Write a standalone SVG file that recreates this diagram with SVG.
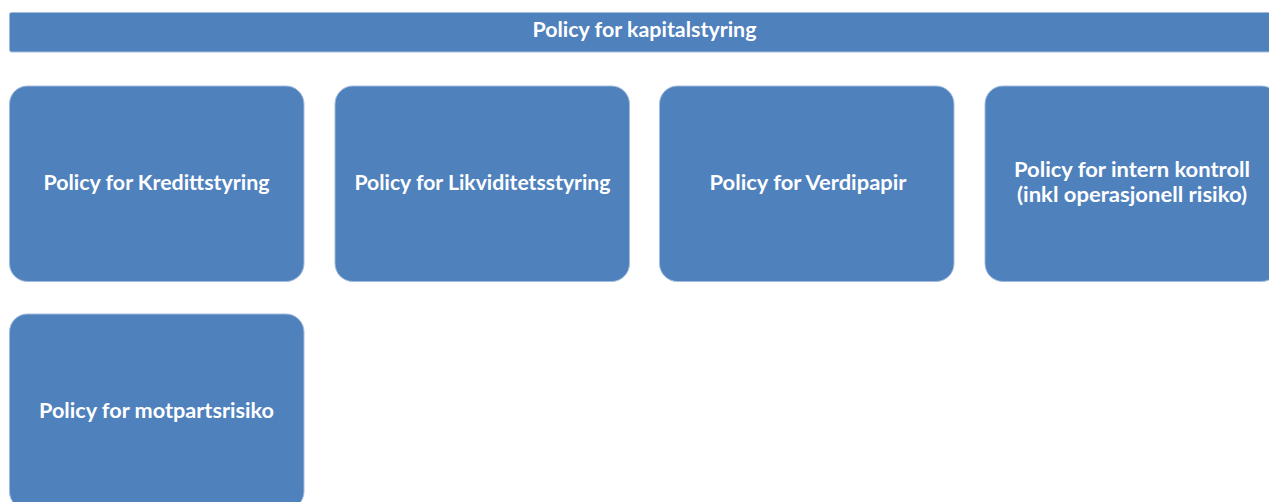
<svg xmlns="http://www.w3.org/2000/svg" width="1269" height="502" viewBox="0 0 1269 502">
  <style>
    .shape { fill: #4F81BD; stroke: #A3BCDD; stroke-width: 1; }
    .label { fill: #FFFFFF; font-family: Lato, "Open Sans", "Liberation Sans", sans-serif; font-weight: bold; font-size: 21px; text-anchor: middle; }
  </style>
  <rect width="1269" height="502" fill="#FFFFFF"/>

  <!-- header bar -->
  <g id="kapitalstyring">
    <rect class="shape" x="9.5" y="12.5" width="1272" height="39.5" rx="2"/>
    <text class="label" x="644.5" y="37" textLength="224" lengthAdjust="spacingAndGlyphs">Policy for kapitalstyring</text>
  </g>

  <!-- first row -->
  <g id="kredittstyring">
    <rect class="shape" x="9.5" y="86" width="294.5" height="195.5" rx="18"/>
    <text class="label" x="156.5" y="190" textLength="226" lengthAdjust="spacingAndGlyphs">Policy for Kredittstyring</text>
  </g>
  <g id="likviditetsstyring">
    <rect class="shape" x="335" y="86" width="294.5" height="195.5" rx="18"/>
    <text class="label" x="482.5" y="190" textLength="256" lengthAdjust="spacingAndGlyphs">Policy for Likviditetsstyring</text>
  </g>
  <g id="verdipapir">
    <rect class="shape" x="659.5" y="86" width="294.5" height="195.5" rx="18"/>
    <text class="label" x="808" y="190" textLength="197" lengthAdjust="spacingAndGlyphs">Policy for Verdipapir</text>
  </g>
  <g id="intern-kontroll">
    <rect class="shape" x="985" y="86" width="294.5" height="195.5" rx="18"/>
    <text class="label" x="1132" y="177" textLength="236" lengthAdjust="spacingAndGlyphs">Policy for intern kontroll</text>
    <text class="label" x="1132" y="202" textLength="230" lengthAdjust="spacingAndGlyphs">(inkl operasjonell risiko)</text>
  </g>

  <!-- second row -->
  <g id="motpartsrisiko">
    <rect class="shape" x="9.5" y="314" width="294.5" height="195.5" rx="18"/>
    <text class="label" x="156.5" y="418" textLength="235" lengthAdjust="spacingAndGlyphs">Policy for motpartsrisiko</text>
  </g>

  <g id="connectors"></g>
</svg>
